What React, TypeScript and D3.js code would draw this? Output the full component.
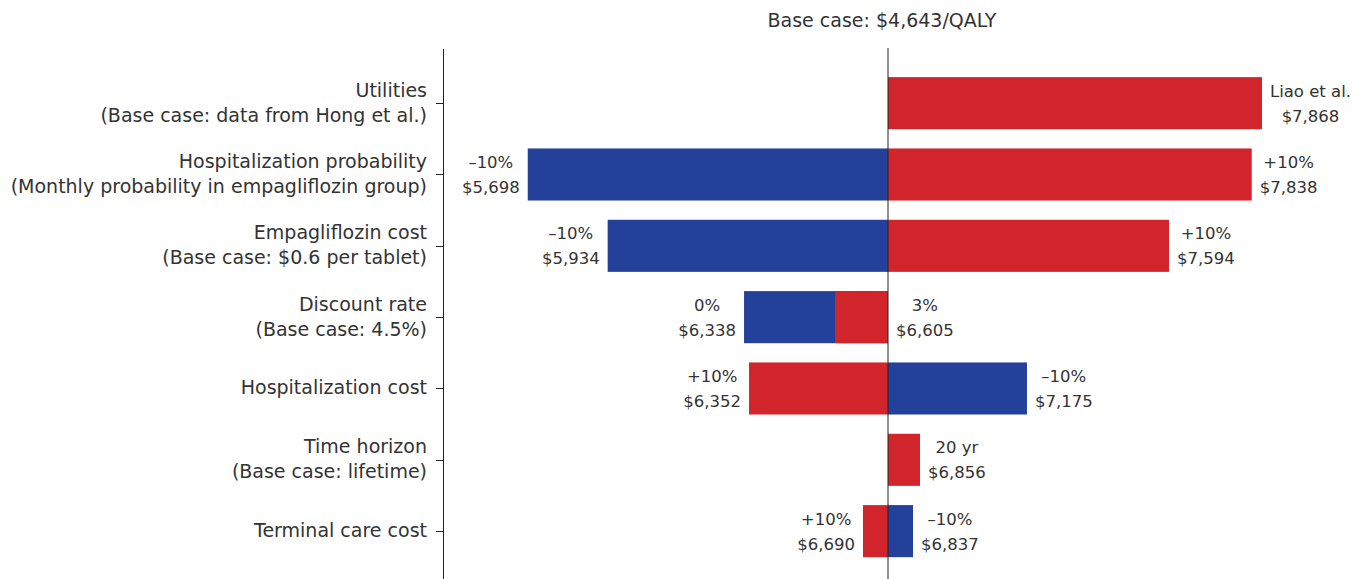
import React, { useEffect, useRef } from "react";
import * as d3 from "d3";

const baseCase = 4643;
const titleText = "Base case: $4,643/QALY";

const categories: string[][] = [
  ["Utilities", "(Base case: data from Hong et al.)"],
  ["Hospitalization probability", "(Monthly probability in empagliflozin group)"],
  ["Empagliflozin cost", "(Base case: $0.6 per tablet)"],
  ["Discount rate", "(Base case: 4.5%)"],
  ["Hospitalization cost"],
  ["Time horizon", "(Base case: lifetime)"],
  ["Terminal care cost"],
];

// bar end values (scale units, base case at centre)
const blueValues: (number | null)[] = [null, 884, 1718, 3141, 6093, null, 4904];
const redValues: (number | null)[] = [8545, 8438, 7575, 4090, 3193, 4977, 4382];

const blueLabels: (string[] | null)[] = [
  null,
  ["–10%", "$5,698"],
  ["–10%", "$5,934"],
  ["0%", "$6,338"],
  ["–10%", "$7,175"],
  null,
  ["–10%", "$6,837"],
];
const redLabels: (string[] | null)[] = [
  ["Liao et al.", "$7,868"],
  ["+10%", "$7,838"],
  ["+10%", "$7,594"],
  ["3%", "$6,605"],
  ["+10%", "$6,352"],
  ["20 yr", "$6,856"],
  ["+10%", "$6,690"],
];
const blueLabelSide: (string | null)[] = [null, "left", "left", "left", "right", null, "right"];
const redLabelSide: string[] = ["right", "right", "right", "right", "left", "right", "left"];

const W = 1365;
const H = 579;
const RED = "#d1242b";
const BLUE = "#23419b";
const TEXT = "#333333";
const FONT = "'DejaVu Sans', sans-serif";
const FS_CAT = 19;
const FS_VAL = 16.5;

export default function App() {
  const ref = useRef<SVGSVGElement | null>(null);

  useEffect(() => {
    const svg = d3.select(ref.current);
    svg.selectAll("*").remove();

    const x = d3.scaleLinear().domain([0, baseCase * 2]).range([443, 1333]);
    const y = d3
      .scaleBand<number>()
      .domain(d3.range(categories.length))
      .range([67.5, 566.8])
      .paddingInner(0.27)
      .paddingOuter(0.135);

    const g = svg.append("g");

    // title
    g.append("text")
      .attr("x", 882)
      .attr("y", 27)
      .attr("text-anchor", "middle")
      .attr("font-family", FONT)
      .attr("font-size", FS_CAT)
      .attr("fill", TEXT)
      .text(titleText);

    // bars
    const drawBar = (vals: (number | null)[], color: string) => {
      vals.forEach((v, i) => {
        if (v == null) return;
        const x0 = Math.min(x(v), x(baseCase));
        const x1 = Math.max(x(v), x(baseCase));
        g.append("rect")
          .attr("x", x0)
          .attr("y", y(i)!)
          .attr("width", x1 - x0)
          .attr("height", y.bandwidth())
          .attr("fill", color);
      });
    };
    drawBar(blueValues, BLUE);
    drawBar(redValues, RED);

    // value labels
    const drawLabels = (
      vals: (number | null)[],
      labels: (string[] | null)[],
      sides: (string | null)[]
    ) => {
      vals.forEach((v, i) => {
        const lab = labels[i];
        if (v == null || !lab) return;
        const side = sides[i];
        const cy = y(i)! + y.bandwidth() / 2;
        const t = g
          .append("text")
          .attr("font-family", FONT)
          .attr("font-size", FS_VAL)
          .attr("fill", TEXT)
          .attr("text-anchor", "middle");
        const spans = lab.map((s, k) =>
          t
            .append("tspan")
            .attr("y", cy + 6 + (k === 0 ? -12.5 : 12.5))
            .text(s)
        );
        const widths = spans.map((sp) => (sp.node() as SVGTSpanElement).getComputedTextLength());
        const maxW = Math.max(...widths);
        const cx =
          side === "left"
            ? Math.min(x(v), x(baseCase)) - 8 - maxW / 2
            : Math.max(x(v), x(baseCase)) + 8 + maxW / 2;
        spans.forEach((sp) => sp.attr("x", cx));
      });
    };
    drawLabels(blueValues, blueLabels, blueLabelSide);
    drawLabels(redValues, redLabels, redLabelSide);

    // category axis
    g.append("line")
      .attr("x1", 443.5)
      .attr("x2", 443.5)
      .attr("y1", 49)
      .attr("y2", H)
      .attr("stroke", "#222")
      .attr("stroke-width", 1);

    categories.forEach((lines, i) => {
      const cy = y(i)! + y.bandwidth() / 2;
      g.append("line")
        .attr("x1", 436)
        .attr("x2", 443.5)
        .attr("y1", Math.round(cy) + 0.5)
        .attr("y2", Math.round(cy) + 0.5)
        .attr("stroke", "#222");
      const t = g
        .append("text")
        .attr("font-family", FONT)
        .attr("font-size", FS_CAT)
        .attr("fill", TEXT)
        .attr("text-anchor", "end");
      lines.forEach((s, k) => {
        const off = lines.length === 1 ? 6 : 6 + (k === 0 ? -12.5 : 12.5);
        t.append("tspan").attr("x", 427).attr("y", cy + off).text(s);
      });
    });

    // base case line
    g.append("line")
      .attr("x1", x(baseCase))
      .attr("x2", x(baseCase))
      .attr("y1", 48)
      .attr("y2", H)
      .attr("stroke", "#222")
      .attr("stroke-width", 1);
  }, []);

  return (
    <svg
      ref={ref}
      width={W}
      height={H}
      style={{ position: "absolute", left: 0, top: 0, display: "block", background: "#fff" }}
    />
  );
}
